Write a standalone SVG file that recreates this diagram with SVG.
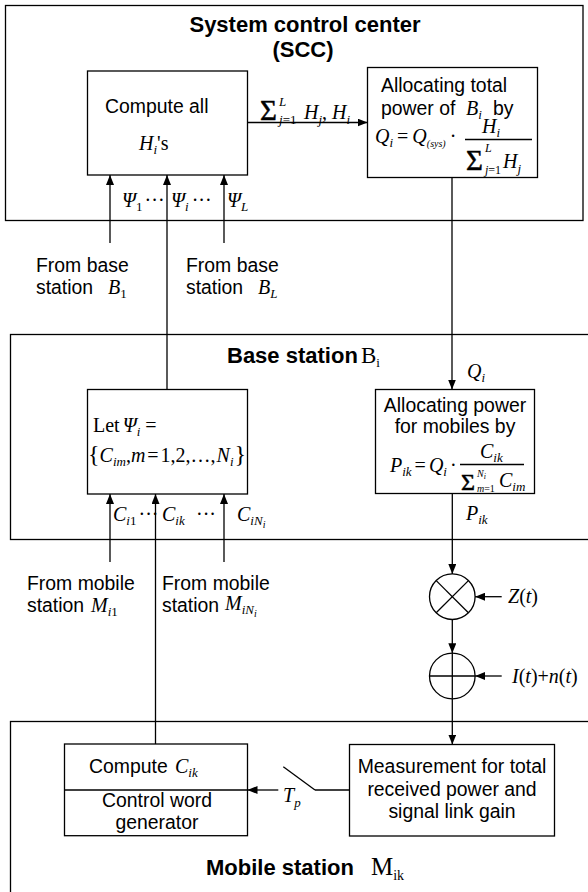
<svg xmlns="http://www.w3.org/2000/svg" width="588" height="892" viewBox="0 0 588 892">
<style>
.box{fill:none;stroke:#000;stroke-width:1.3}
.ln{fill:none;stroke:#000;stroke-width:1.3}
.ar{fill:none;stroke:#000;stroke-width:1.3;marker-end:url(#ah)}
.t{font-family:"Liberation Sans",Arial,sans-serif;font-size:19.4px;fill:#000}
.tc{font-family:"Liberation Sans",Arial,sans-serif;font-size:19.4px;fill:#000;text-anchor:middle}
.h{font-family:"Liberation Sans",Arial,sans-serif;font-size:22px;font-weight:bold;fill:#000}
.m{font-family:"Liberation Serif","Times New Roman",serif;font-size:20px;font-style:italic;fill:#000}
.r{font-family:"Liberation Serif","Times New Roman",serif;font-size:20px;font-style:normal;fill:#000}
.s{font-size:13px}
.ss{font-size:10px}
.u{font-style:normal}
.sig{font-family:"Liberation Serif","Times New Roman",serif;font-size:29px;fill:#000;stroke:#000;stroke-width:0.5}
</style>
<defs>
<marker id="ah" markerWidth="10" markerHeight="8" refX="10" refY="4" orient="auto" markerUnits="userSpaceOnUse">
<path d="M0,0 L10,4 L0,8 z" fill="#000"/>
</marker>
</defs>

<g id="scc">
<rect class="box" x="5.5" y="5.5" width="577.5" height="215"/>
<text class="h" x="305" y="32" text-anchor="middle">System control center</text>
<text class="h" x="303" y="57" text-anchor="middle">(SCC)</text>
</g>

<g id="compute-all">
<rect class="box" x="87.5" y="71" width="160" height="104"/>
<text class="t" x="105" y="113">Compute all</text>
<text class="m" x="139" y="150">H<tspan class="s" dy="4">i</tspan><tspan class="u" dy="-4">'s</tspan></text>
</g>

<g id="alloc-total">
<rect class="box" x="367.5" y="67.5" width="170" height="110"/>
<text class="t" x="381" y="92">Allocating total</text>
<text class="t" x="381" y="115">power of</text>
<text class="m" x="466" y="115">B<tspan class="s" dy="4">i</tspan></text>
<text class="t" x="493" y="115">by</text>
<text class="m" x="375" y="143">Q<tspan class="s" dy="4">i</tspan><tspan class="u" dy="-4" dx="4">=</tspan><tspan dx="4">Q</tspan><tspan class="ss" dy="4">(sys)</tspan><tspan class="u" dy="-4" dx="4">·</tspan></text>
<line class="ln" x1="465" y1="139.5" x2="532" y2="139.5"/>
<text class="m" x="482" y="133">H<tspan class="s" dy="4">i</tspan></text>
<text class="sig" x="466" y="170">Σ</text>
<text class="m" x="485" y="152" style="font-size:12px">L</text>
<text class="m" x="485" y="174" style="font-size:12px">j<tspan class="u">=1</tspan></text>
<text class="m" x="503" y="168">H<tspan class="s" dy="5">j</tspan></text>
</g>

<g id="base-station">
<rect class="box" x="10.5" y="334.5" width="590" height="205"/>
<text class="h" x="227" y="363">Base station</text>
<text class="r" x="361" y="363" style="font-size:23px">B<tspan style="font-size:13px" dy="4">i</tspan></text>
</g>

<g id="let-psi">
<rect class="box" x="87.5" y="389.5" width="160" height="104.5"/>
<text class="r" x="93" y="432">Let<tspan class="m" dx="3">Ψ</tspan><tspan class="m s" dy="4">i</tspan><tspan dy="-4" dx="5">=</tspan></text>
<text class="r" x="88" y="462"><tspan style="font-size:24px">{</tspan><tspan class="m">C</tspan><tspan class="m s" dy="4">im</tspan><tspan dy="-4">,</tspan><tspan class="m">m</tspan><tspan dx="2">=</tspan><tspan dx="2">1,2,…,</tspan><tspan class="m" dx="1">N</tspan><tspan class="m s" dy="4">i</tspan><tspan dy="-4" dx="1" style="font-size:24px">}</tspan></text>
</g>

<g id="alloc-mobiles">
<rect class="box" x="375.5" y="389.5" width="159" height="104"/>
<text class="tc" x="455" y="412">Allocating power</text>
<text class="tc" x="455" y="433">for mobiles by</text>
<text class="m" x="390" y="472">P<tspan class="s" dy="4">ik</tspan><tspan class="u" dy="-4" dx="3">=</tspan><tspan dx="3">Q</tspan><tspan class="s" dy="4">i</tspan><tspan class="u" dy="-4" dx="3">·</tspan></text>
<line class="ln" x1="460" y1="464.5" x2="524" y2="464.5"/>
<text class="m" x="480" y="458">C<tspan class="s" dy="4">ik</tspan></text>
<text class="sig" x="461" y="490" style="font-size:24px">Σ</text>
<text class="m ss" x="477" y="477">N<tspan style="font-size:8px" dy="2">i</tspan></text>
<text class="m ss" x="477" y="492">m<tspan class="u">=1</tspan></text>
<text class="m" x="499" y="487">C<tspan class="s" dy="4">im</tspan></text>
</g>

<g id="multiplier">
<circle class="box" cx="452.3" cy="596.7" r="22.8"/>
<line class="ln" x1="436.2" y1="580.6" x2="468.4" y2="612.8"/>
<line class="ln" x1="468.4" y1="580.6" x2="436.2" y2="612.8"/>
</g>

<g id="adder">
<circle class="box" cx="452.3" cy="676" r="22.8"/>
<line class="ln" x1="429.5" y1="676" x2="475.1" y2="676"/>
<line class="ln" x1="452.3" y1="653.2" x2="452.3" y2="698.8"/>
</g>

<g id="mobile-station">
<rect class="box" x="10.5" y="721.5" width="590" height="200"/>
<text class="h" x="206" y="875">Mobile station</text>
<text class="r" x="371" y="875" style="font-size:25px">M<tspan style="font-size:14px" dy="5">ik</tspan></text>
</g>

<g id="compute-cik">
<rect class="box" x="64.5" y="744" width="183" height="91.7"/>
<line class="ln" x1="64.5" y1="790" x2="247.5" y2="790"/>
<text class="t" x="89" y="773">Compute</text>
<text class="m" x="175" y="773">C<tspan class="s" dy="4">ik</tspan></text>
<text class="tc" x="157" y="807">Control word</text>
<text class="tc" x="157" y="829">generator</text>
</g>

<g id="measurement">
<rect class="box" x="349.5" y="744.5" width="205" height="91.5"/>
<text class="tc" x="452" y="773">Measurement for total</text>
<text class="tc" x="452" y="796">received power and</text>
<text class="tc" x="452" y="818">signal link gain</text>
</g>

<g id="labels">
<text class="m" x="122" y="207">Ψ<tspan class="s u" dy="4">1</tspan><tspan class="u" dy="-4" dx="2">···</tspan></text>
<text class="m" x="171" y="207">Ψ<tspan class="s" dy="4">i</tspan><tspan class="u" dy="-4" dx="3">···</tspan></text>
<text class="m" x="227" y="207">Ψ<tspan class="s" dy="4">L</tspan></text>
<text class="t" x="36" y="272">From base</text>
<text class="t" x="36" y="294">station</text>
<text class="m" x="108" y="294">B<tspan class="s u" dy="4">1</tspan></text>
<text class="t" x="186" y="272">From base</text>
<text class="t" x="186" y="294">station</text>
<text class="m" x="258" y="294">B<tspan class="s" dy="4">L</tspan></text>
<text class="sig" x="260" y="120">Σ</text>
<text class="m s" x="279" y="106">L</text>
<text class="m s" x="279" y="124">j<tspan class="u">=1</tspan></text>
<text class="m" x="304" y="119">H<tspan class="s" dy="5">j</tspan><tspan class="u" dy="-5">, </tspan>H<tspan class="s" dy="5">i</tspan></text>
<text class="m" x="467" y="378">Q<tspan class="s" dy="4">i</tspan></text>
<text class="m" x="466" y="520">P<tspan class="s" dy="4">ik</tspan></text>
<text class="m" x="113" y="521">C<tspan class="s" dy="4">i<tspan class="u">1</tspan></tspan><tspan class="u" dy="-4" dx="2">···</tspan></text>
<text class="m" x="162" y="521">C<tspan class="s" dy="4">ik</tspan></text>
<text class="r" x="196" y="521">···</text>
<text class="m" x="237" y="521">C<tspan class="s" dy="4">iN</tspan><tspan class="ss" dy="3">i</tspan></text>
<text class="t" x="27" y="590">From mobile</text>
<text class="t" x="27" y="612">station</text>
<text class="m" x="91" y="612">M<tspan class="s" dy="4">i<tspan class="u">1</tspan></tspan></text>
<text class="t" x="162" y="590">From mobile</text>
<text class="t" x="162" y="612">station</text>
<text class="m" x="225" y="610">M<tspan class="s" dy="4">iN</tspan><tspan class="ss" dy="3">i</tspan></text>
<text class="m" x="508" y="603">Z<tspan class="u">(</tspan>t<tspan class="u">)</tspan></text>
<text class="m" x="512" y="683">I<tspan class="u">(</tspan>t<tspan class="u">)+</tspan>n<tspan class="u">(</tspan>t<tspan class="u">)</tspan></text>
<text class="m" x="283" y="802">T<tspan class="s" dy="5">p</tspan></text>
</g>

<g id="connectors">
<line class="ar" x1="247.5" y1="122.5" x2="367.5" y2="122.5"/>
<line class="ar" x1="452" y1="177.5" x2="452" y2="389.5"/>
<line class="ar" x1="110" y1="243" x2="110" y2="175"/>
<line class="ar" x1="167" y1="389.5" x2="167" y2="175"/>
<line class="ar" x1="224" y1="243" x2="224" y2="175"/>
<line class="ar" x1="110" y1="562" x2="110" y2="494"/>
<line class="ar" x1="155.5" y1="744" x2="155.5" y2="494"/>
<line class="ar" x1="224" y1="562" x2="224" y2="494"/>
<line class="ar" x1="452.3" y1="493.5" x2="452.3" y2="573.9"/>
<line class="ar" x1="452.3" y1="619.5" x2="452.3" y2="653.2"/>
<line class="ar" x1="452.3" y1="698.8" x2="452.3" y2="744.5"/>
<line class="ar" x1="501.7" y1="596.7" x2="475.1" y2="596.7"/>
<line class="ar" x1="501.7" y1="676" x2="475.1" y2="676"/>
<line class="ln" x1="283.3" y1="766.7" x2="315" y2="790"/>
<line class="ln" x1="315" y1="790" x2="349.5" y2="790"/>
<line class="ar" x1="278.3" y1="790" x2="247.5" y2="790"/>
</g>
</svg>
